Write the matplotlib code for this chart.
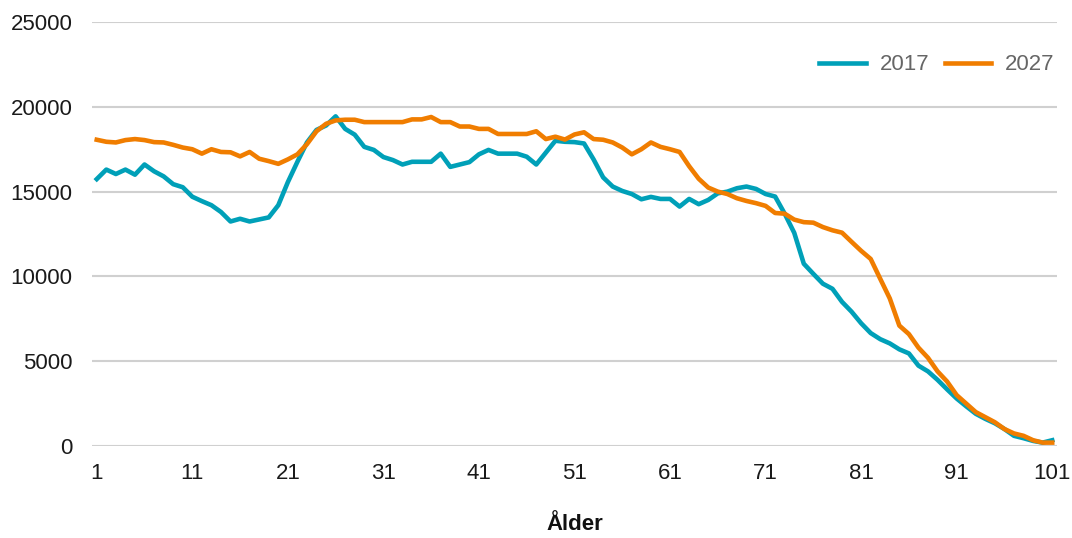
import matplotlib
matplotlib.use("Agg")
import matplotlib.pyplot as plt
from matplotlib import font_manager

ages = list(range(1, 102))
pop_2017 = [15740, 16300, 16040, 16300, 16000, 16600, 16200, 15900, 15440, 15260,
            14700, 14440, 14200, 13800, 13240, 13400, 13240, 13360, 13480, 14200,
            15560, 16760, 17900, 18640, 18900, 19440, 18700, 18360, 17640, 17460,
            17040, 16860, 16600, 16760, 16760, 16760, 17240, 16460, 16600, 16740,
            17200, 17460, 17240, 17240, 17240, 17060, 16600, 17300, 18000, 17940,
            17920, 17840, 16900, 15840, 15300, 15040, 14860, 14550, 14690, 14570,
            14570, 14120, 14570, 14260, 14510, 14900, 15000, 15200, 15300, 15160,
            14860, 14710, 13700, 12570, 10750, 10150, 9570, 9270, 8500, 7920,
            7240, 6660, 6300, 6050, 5700, 5460, 4740, 4400, 3900, 3340,
            2800, 2340, 1900, 1600, 1340, 1000, 600, 460, 300, 200, 340]
pop_2027 = [18060, 17940, 17900, 18040, 18100, 18040, 17920, 17900, 17760, 17600,
            17500, 17240, 17500, 17340, 17320, 17080, 17340, 16940, 16800, 16640,
            16900, 17200, 17800, 18560, 19000, 19200, 19240, 19240, 19100, 19100,
            19100, 19100, 19100, 19260, 19260, 19400, 19100, 19100, 18840, 18840,
            18700, 18700, 18400, 18400, 18400, 18400, 18560, 18100, 18240, 18070,
            18370, 18500, 18100, 18060, 17900, 17600, 17200, 17500, 17900, 17640,
            17500, 17340, 16500, 15760, 15240, 15000, 14860, 14610, 14450, 14320,
            14160, 13740, 13700, 13350, 13200, 13170, 12910, 12720, 12580, 12040,
            11510, 11030, 9860, 8700, 7100, 6600, 5800, 5200, 4400, 3800,
            3000, 2500, 2000, 1700, 1400, 1000, 740, 600, 340, 200, 200]
series_labels = ["2017", "2027"]
x_ticks = list(range(1, 102, 10))
y_ticks = [0, 5000, 10000, 15000, 20000, 25000]
x_label = "Ålder"

plt.rcParams['font.family'] = ['Liberation Sans', 'DejaVu Sans']

fig = plt.figure(figsize=(10.72, 5.38), dpi=100)
ax = fig.add_axes([0.0858, 0.171, 0.9002, 0.788])

teal = "#00A0B8"
orange = "#F07D00"
ax.plot(ages, pop_2017, color=teal, lw=3.3, label=series_labels[0], solid_joinstyle='round', zorder=3)
ax.plot(ages, pop_2027, color=orange, lw=3.3, label=series_labels[1], solid_joinstyle='round', zorder=4)

ax.set_xlim(0.5, 101.5)
ax.set_ylim(0, 25000)
ax.set_xticks(x_ticks)
ax.set_xticklabels([str(t) for t in x_ticks])
ax.set_yticks(y_ticks)
ax.set_yticklabels([str(t) for t in y_ticks])
ax.yaxis.grid(True, color="#d0d0d0", lw=1.5)
ax.set_axisbelow(True)
for s in ax.spines.values():
    s.set_visible(False)
ax.tick_params(axis='both', length=0, labelsize=16, colors="#1a1a1a")
ax.tick_params(axis='x', pad=12)
ax.tick_params(axis='y', pad=14)
ax.set_xlabel(x_label, fontsize=16, fontweight='bold', color="#111111", labelpad=22)

leg = ax.legend(loc='center right', bbox_to_anchor=(0.997, 0.899), ncol=2, frameon=False,
                fontsize=16, handlelength=2.1, handletextpad=0.6, columnspacing=0.7,
                borderaxespad=0, borderpad=0)
for t in leg.get_texts():
    t.set_color("#666666")

fig.savefig("out.png", dpi=100)
